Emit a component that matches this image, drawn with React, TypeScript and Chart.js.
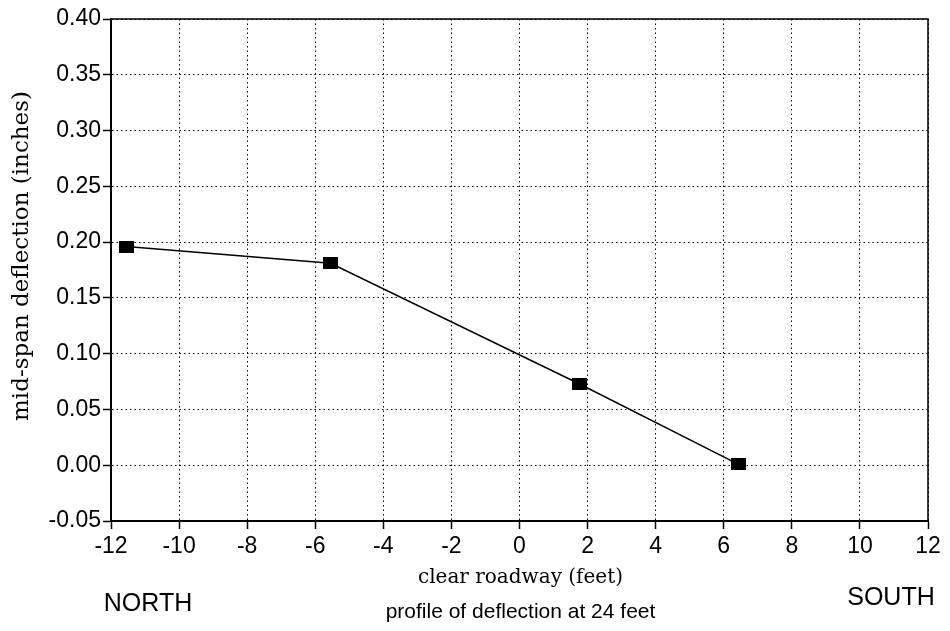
import React, { useEffect, useRef } from "react";
import { Chart, registerables } from "chart.js";

Chart.register(...registerables);

// Measured deflection profile across the clear roadway
const positionFeet = [-11.55, -5.55, 1.75, 6.42];
const deflectionInches = [0.196, 0.181, 0.073, 0.001];

// Axis ranges and tick spacing
const xRange = [-12, 12];
const xStep = 2;
const yRange = [-0.05, 0.4];
const yStep = 0.05;

// Text drawn around the plot
const yTitle = "mid-span deflection (inches)";
const xTitle = "clear roadway (feet)";
const caption = "profile of deflection at 24 feet";
const leftSide = "NORTH";
const rightSide = "SOUTH";

const SANS = '"Liberation Sans", Arial, sans-serif';
const SERIF = '"DejaVu Serif", serif';

function makeMarker(): HTMLCanvasElement {
  const c = document.createElement("canvas");
  c.width = 15;
  c.height = 12;
  const g = c.getContext("2d")!;
  g.fillStyle = "#000";
  g.fillRect(0, 0, 15, 12);
  return c;
}

const frameAndLabels = {
  id: "frameAndLabels",
  afterDraw(chart: Chart) {
    const { ctx, chartArea } = chart;
    const { left, right, top, bottom } = chartArea;
    ctx.save();
    // solid top and right edges of the plot box
    ctx.strokeStyle = "#000";
    ctx.lineWidth = 1.5;
    ctx.beginPath();
    ctx.moveTo(left, top);
    ctx.lineTo(right, top);
    ctx.lineTo(right, bottom);
    ctx.stroke();

    ctx.fillStyle = "#000";
    ctx.textAlign = "center";
    ctx.textBaseline = "middle";
    const midX = (left + right) / 2;

    ctx.font = `20px ${SERIF}`;
    ctx.fillText(xTitle, midX + 1, 578);

    ctx.font = `21px ${SANS}`;
    ctx.fillText(caption, midX + 1, 612);

    ctx.font = `25px ${SANS}`;
    ctx.fillText(leftSide, 148, 604);
    ctx.fillText(rightSide, 891, 598);

    ctx.translate(22, 256);
    ctx.rotate(-Math.PI / 2);
    ctx.font = `23px ${SERIF}`;
    ctx.fillText(yTitle, 0, 0);
    ctx.restore();
  },
};

export default function App() {
  const canvasRef = useRef<HTMLCanvasElement | null>(null);

  useEffect(() => {
    const canvas = canvasRef.current;
    if (!canvas) return;
    const marker = makeMarker();
    const chart = new Chart(canvas, {
      type: "line",
      data: {
        datasets: [
          {
            data: positionFeet.map((x, i) => ({ x, y: deflectionInches[i] })),
            borderColor: "#000",
            borderWidth: 1.5,
            pointStyle: marker,
            pointRadius: 7,
            pointBackgroundColor: "#000",
            tension: 0,
            fill: false,
          },
        ],
      },
      options: {
        responsive: false,
        animation: false,
        layout: { padding: { top: 19, right: 22, left: 0, bottom: 0 } },
        plugins: {
          legend: { display: false },
          tooltip: { enabled: false },
        },
        scales: {
          x: {
            type: "linear",
            min: xRange[0],
            max: xRange[1],
            afterFit(scale: any) {
              scale.height = 110;
            },
            ticks: {
              stepSize: xStep,
              color: "#000",
              padding: 4,
              maxRotation: 0,
              font: { family: SANS, size: 23 },
              callback: (v: any) => String(Math.round(Number(v))),
            },
            grid: {
              color: "#000",
              lineWidth: 1,
              tickLength: 8,
              tickWidth: 1.5,
              tickBorderDash: [],
            },
            border: { display: true, color: "#000", width: 2, dash: [1.5, 3] },
          },
          y: {
            type: "linear",
            min: yRange[0],
            max: yRange[1],
            afterFit(scale: any) {
              scale.width = 111;
            },
            ticks: {
              stepSize: yStep,
              color: "#000",
              padding: 2,
              font: { family: SANS, size: 23 },
              callback: (v: any) => Number(v).toFixed(2),
            },
            grid: {
              color: "#000",
              lineWidth: 1,
              tickLength: 8,
              tickWidth: 1.5,
              tickBorderDash: [],
            },
            border: { display: true, color: "#000", width: 2, dash: [1.5, 3] },
          },
        },
      },
      plugins: [frameAndLabels],
    });
    return () => chart.destroy();
  }, []);

  return (
    <div style={{ position: "absolute", left: 0, top: 0, width: 950, height: 631, background: "#fff" }}>
      <canvas ref={canvasRef} width={950} height={631} style={{ display: "block", width: 950, height: 631 }} />
    </div>
  );
}
